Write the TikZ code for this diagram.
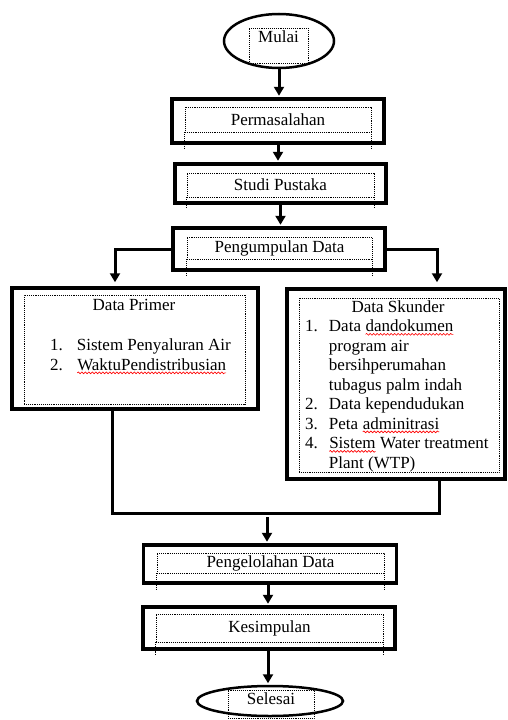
\documentclass[tikz,border=0pt]{standalone}
\usepackage{fontspec}
\setmainfont{Liberation Serif}
\usetikzlibrary{arrows.meta,shapes.geometric,decorations.pathmorphing}

\newcommand\spellerr[1]{\tikz[baseline=(w.base)]{\node[inner sep=0pt,outer sep=0pt] (w) {#1};
	\draw[red,line width=0.6pt,decorate,decoration={snake,amplitude=0.9pt,segment length=3.5pt}]
		([yshift=-2.5pt]w.base west) -- ([yshift=-2.5pt]w.base east);}}

\begin{document}
\begin{tikzpicture}[x=1pt,y=-1pt,
	font=\fontsize{17}{19.5}\selectfont,
	box/.style={draw,line width=3.5pt,inner sep=0pt},
	frame/.style={draw,densely dotted,line width=0.9pt,inner sep=0pt},
	oval/.style={draw,ellipse,line width=2.5pt,inner sep=0pt},
	flow/.style={line width=3pt,-{Triangle[width=10pt,length=9pt]},shorten >=1.5pt}]
	\useasboundingbox (0,0) rectangle (508,720);

	% outer shapes
	\node[oval,minimum width=110pt,minimum height=54pt] (mulai) at (279,41) {};
	\node[box,minimum width=212pt,minimum height=44pt] (masalah) at (278,121) {};
	\node[box,minimum width=211pt,minimum height=39pt] (studi) at (280.5,183.5) {};
	\node[box,minimum width=212pt,minimum height=42pt] (kumpul) at (279,249) {};
	\node[box,minimum width=246pt,minimum height=121pt] (primer) at (135,348.5) {};
	\node[box,minimum width=218pt,minimum height=190pt] (skunder) at (396,384) {};
	\node[box,minimum width=253pt,minimum height=38pt] (olah) at (270,564) {};
	\node[box,minimum width=252pt,minimum height=42pt] (simpul) at (269,628) {};
	\node[oval,minimum width=146pt,minimum height=30pt] (selesai) at (270,701) {};

	% dotted text frames
	\node[frame,minimum width=59pt,minimum height=35pt] (mulaiF) at (278.5,45.5) {};
	\node at (278.5,37) {Mulai};
	\node[frame,minimum width=186pt,minimum height=25pt] (masalahF) at (278,119.5) {Permasalahan};
	\node[frame,minimum width=187pt,minimum height=24pt] (studiF) at (280.5,185) {Studi Pustaka};
	\node[frame,minimum width=185pt,minimum height=22pt] (kumpulF) at (279.5,248) {Pengumpulan Data};
	\node[frame,minimum width=221pt,minimum height=109pt] (primerF) at (134.5,349.5) {};
	\node[frame,minimum width=200pt,minimum height=174pt] (skunderF) at (399,385) {};
	\node[frame,minimum width=227pt,minimum height=20pt] (olahF) at (270.5,563) {Pengelolahan Data};
	\node[frame,minimum width=227pt,minimum height=28pt] (simpulF) at (269.5,628) {Kesimpulan};
	\node[frame,minimum width=86pt,minimum height=28pt] (selesaiF) at (271,704) {};
	\node at (271,699) {Selesai};
	\foreach \f/\b in {masalahF/masalah,studiF/studi,kumpulF/kumpul,olahF/olah,simpulF/simpul}
	{
		\draw[densely dotted,line width=0.9pt] (\f.south west) -- (\b.south -| \f.south west) -- ++(0,4);
		\draw[densely dotted,line width=0.9pt] (\f.south east) -- (\b.south -| \f.south east) -- ++(0,4);
	}

	% list contents
	\node at (134,305) {Data Primer};
	\node[anchor=north west,inner sep=0pt] (primerL) at (50,337) {%
		\begin{tabular}{@{}l@{\hspace{14pt}}l@{}}
			1. & Sistem Penyaluran Air\\
			2. & \spellerr{WaktuPendistribusian}\\
		\end{tabular}};
	\node at (398,307) {Data Skunder};
	\node[anchor=north west,inner sep=0pt] (skunderL) at (305,318) {%
		\begin{tabular}{@{}l@{\hspace{11pt}}l@{}}
			1. & Data \spellerr{dandokumen}\\
			   & program air\\
			   & bersihperumahan\\
			   & tubagus palm indah\\
			2. & Data kependudukan\\
			3. & Peta \spellerr{adminitrasi}\\
			4. & \spellerr{Sistem} Water treatment\\
			   & Plant (WTP)\\
		\end{tabular}};

	% connectors
	\coordinate (gabung) at (267,513);
	\draw[flow] (mulai.south) -- (mulai.south |- masalah.north);
	\draw[flow] (masalah.south) -- (masalah.south |- studi.north);
	\draw[flow] (studi.south) -- (studi.south |- kumpul.north);
	\draw[flow,shorten >=4pt] (kumpul.west) -| ([xshift=-20pt]primer.north);
	\draw[flow,shorten >=5pt] (kumpul.east) -| ([xshift=41pt]skunder.north);
	\draw[line width=3pt] ([xshift=-23pt]primer.south) |- (gabung) -| ([xshift=43pt]skunder.south);
	\draw[flow] ([yshift=-4pt]gabung) -- (gabung |- olah.north);
	\draw[flow] ([xshift=-2pt]olah.south) -- ([xshift=-2pt]olah.south |- simpul.north);
	\draw[flow] ([xshift=-1pt]simpul.south) -- ([xshift=-1pt]simpul.south |- selesai.north);
\end{tikzpicture}
\end{document}
